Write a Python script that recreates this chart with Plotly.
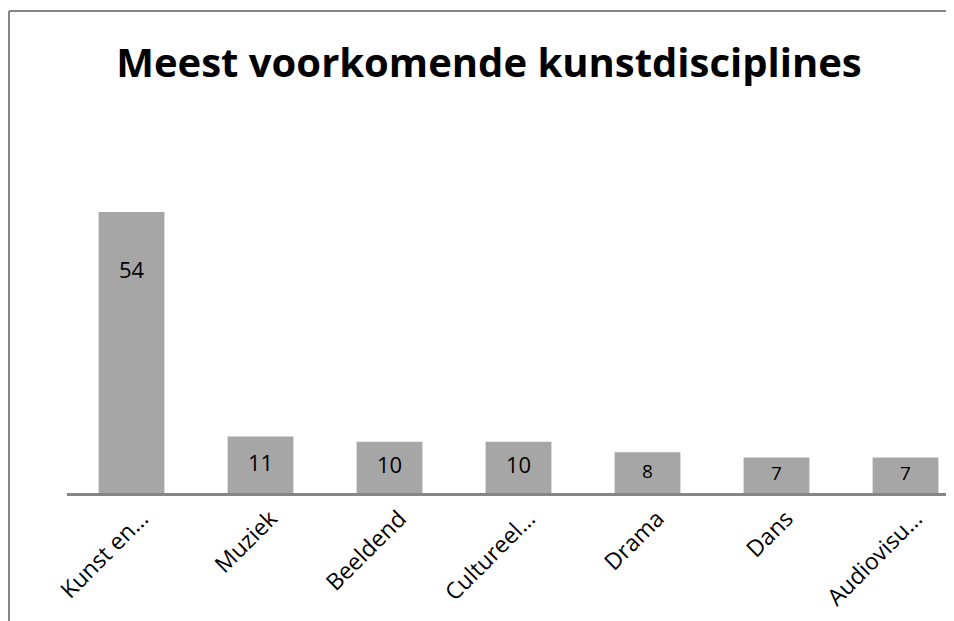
import plotly.graph_objects as go

categories = ["Kunst en…", "Muziek", "Beeldend", "Cultureel…", "Drama", "Dans", "Audiovisu…"]
values = [54, 11, 10, 10, 8, 7, 7]
title_text = "Meest voorkomende kunstdisciplines"

W, H = 954, 621
L, R, T, B = 59, 0, 142, 135
px_per_cat = 129.0
plot_w = W - L - R
plot_h = H - T - B
px_per_unit = 5.222
y_top = plot_h / px_per_unit

bar_color = "#A6A6A6"
line_color = "#868686"
font_family = "Open Sans, Noto Sans, sans-serif"

label_sizes = [22 if v >= 10 else 19 for v in values]
# labels sit ~60px below the top of tall bars, centered in short bars
label_y = [max(v / 2, v - 60 / px_per_unit) for v in values]

fig = go.Figure()
fig.add_trace(go.Bar(
    x=categories, y=values,
    marker=dict(color=bar_color, line=dict(width=0)),
    width=0.51,
    hoverinfo="skip",
))
fig.add_trace(go.Scatter(
    x=categories, y=label_y, mode="text",
    text=[str(v) for v in values],
    textposition="middle center",
    textfont=dict(family=font_family, size=label_sizes, color="#000000"),
    hoverinfo="skip",
))

# frame lines (top and left edge of chart area) and the category axis line
fx = (1 - L) / plot_w
fy = 1 + (T - 3) / plot_h
fy_bottom = -(B + 10) / plot_h
fx_right = (W - L + 40) / plot_w
fig.add_shape(type="line", xref="paper", yref="paper", x0=fx, x1=fx_right, y0=fy, y1=fy,
              line=dict(color=line_color, width=2))
fig.add_shape(type="line", xref="paper", yref="paper", x0=fx, x1=fx, y0=fy, y1=fy_bottom,
              line=dict(color=line_color, width=2))
fig.add_shape(type="line", xref="paper", yref="paper", x0=0, x1=fx_right, y0=0, y1=0,
              line=dict(color=line_color, width=2))

fig.update_layout(
    width=W, height=H,
    margin=dict(l=L, r=R, t=T, b=B, autoexpand=False),
    paper_bgcolor="white", plot_bgcolor="white",
    showlegend=False,
    title=dict(text="<b>" + title_text + "</b>", x=481 / W, xanchor="center",
               y=1 - 55 / H, yanchor="middle", yref="container",
               font=dict(family=font_family, size=40, color="#000000")),
    xaxis=dict(
        type="category",
        range=[-0.5, -0.5 + plot_w / px_per_cat],
        showline=True, linecolor=line_color, linewidth=2,
        showgrid=False, zeroline=False, ticks="",
        tickangle=-45, automargin=False,
        ticklabelshift=10,
        tickfont=dict(family=font_family, size=23, color="#000000"),
    ),
    yaxis=dict(range=[0, y_top], visible=False, showgrid=False, zeroline=False, automargin=False),
)

fig.write_html("out.html")
